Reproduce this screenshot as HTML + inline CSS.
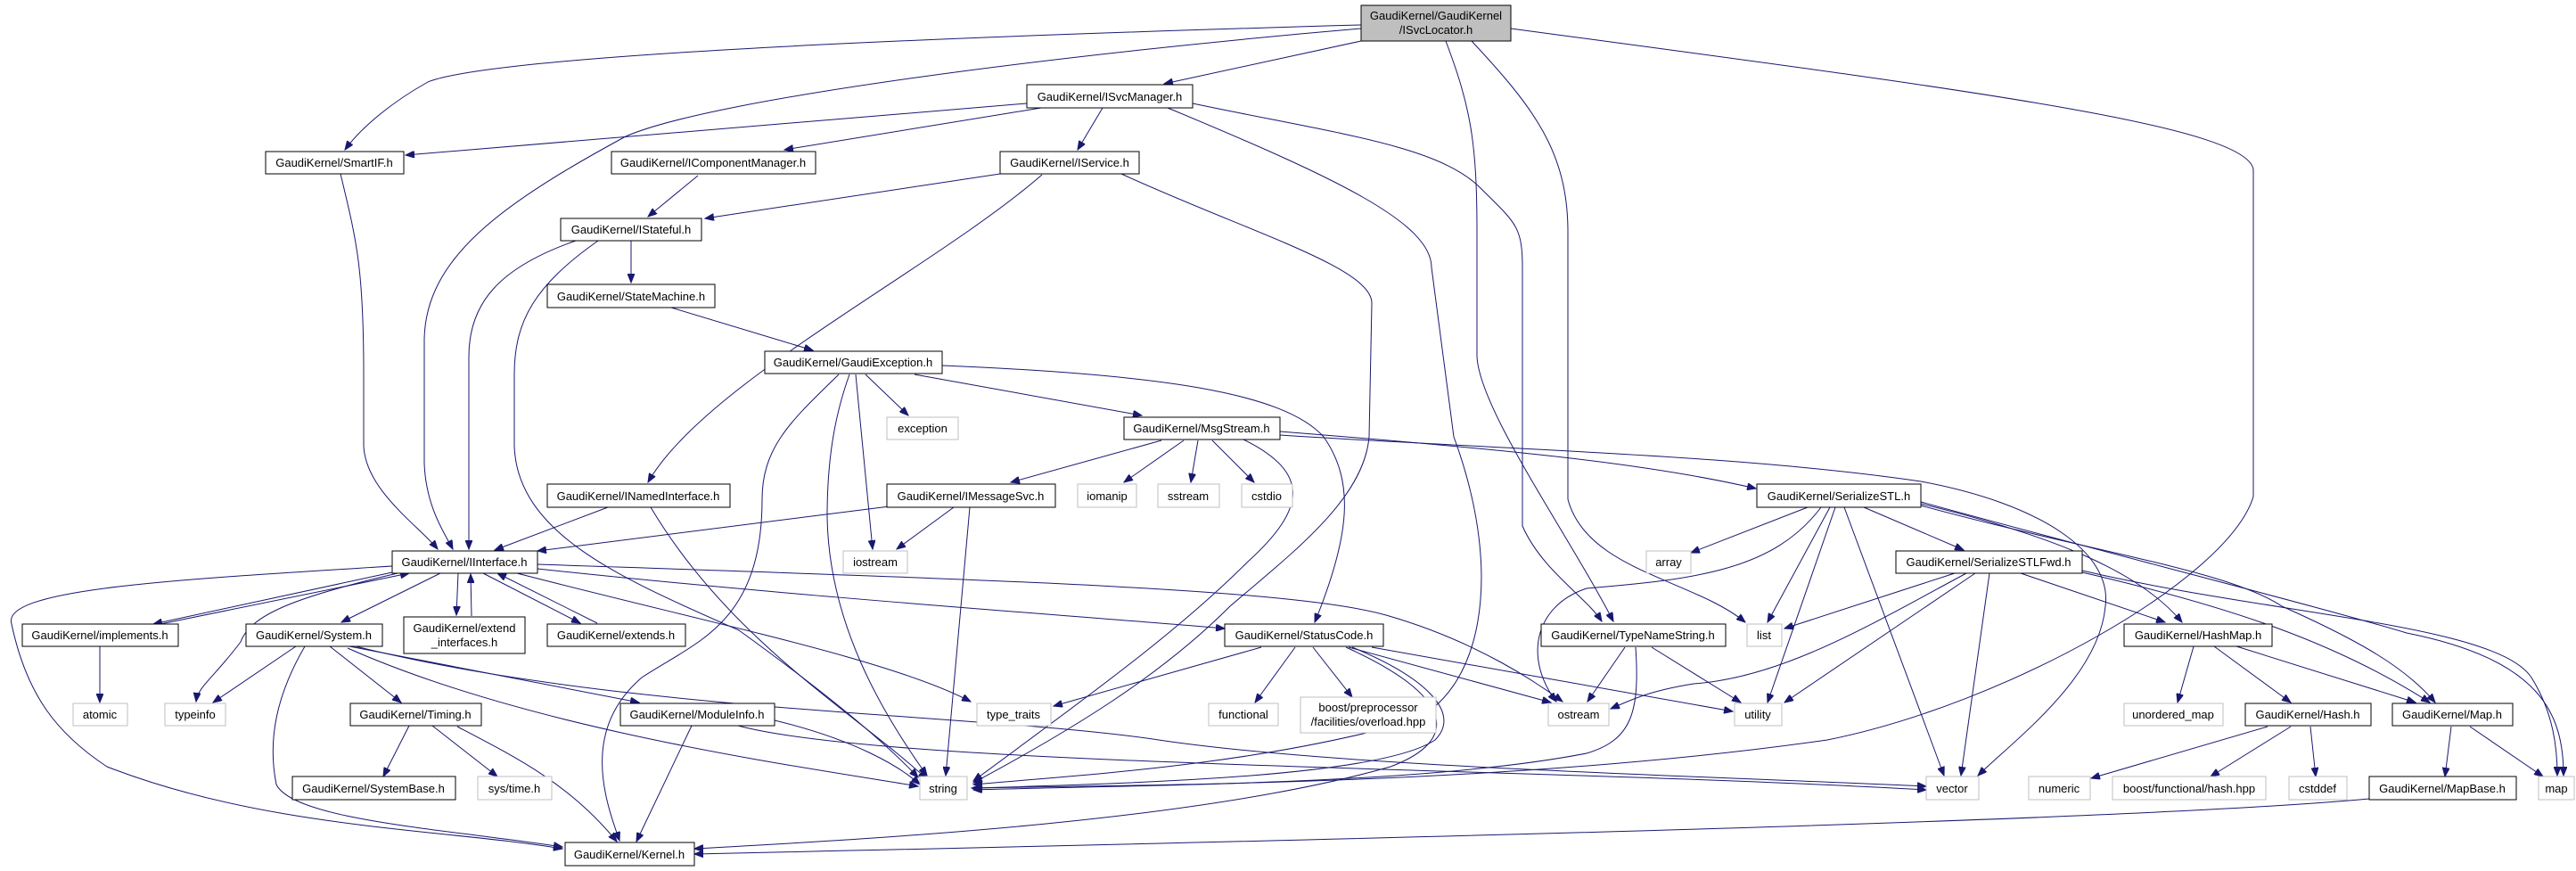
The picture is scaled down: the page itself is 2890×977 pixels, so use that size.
<!DOCTYPE html>
<html><head><meta charset="utf-8"><style>
html,body{margin:0;padding:0;background:#fff;}
svg{display:block;}
text{font-family:"Liberation Sans",Arial,sans-serif;font-size:13px;fill:#000;text-anchor:middle;}
.n{fill:#fff;stroke:#000;stroke-width:1;}
.x{fill:#fff;stroke:#bfbfbf;stroke-width:1;}
.e{fill:none;stroke:#191970;stroke-width:1;marker-end:url(#a);}
</style></head><body>
<svg width="2890" height="977" viewBox="0 0 2890 977" xmlns="http://www.w3.org/2000/svg">
<defs><marker id="a" markerUnits="userSpaceOnUse" markerWidth="11" markerHeight="8" refX="10" refY="4" orient="auto"><path d="M0,0 L10,4 L0,8 z" fill="#191970" stroke="#191970"/></marker></defs>
<g>
<!-- ISvcLocator edges -->
<path class="e" d="M1527,28 C1100,40 560,60 480,92 C430,120 400,150 387,168"/>
<path class="e" d="M1527,32 C1200,60 800,110 702,153 C560,230 478,290 476,380 L476,520 C478,570 500,600 508,616"/>
<path class="e" d="M1527,46 L1306,94"/>
<path class="e" d="M1622,46 C1650,120 1657,160 1657,260 L1657,400 C1660,460 1760,600 1810,697"/>
<path class="e" d="M1651,46 C1720,120 1759,170 1759,260 L1759,560 C1780,640 1900,650 1958,698"/>
<path class="e" d="M1695,32 C2200,100 2520,140 2528,190 L2528,557 C2500,650 2250,790 2050,830 C1700,880 1300,880 1090,884"/>
<!-- ISvcManager -->
<path class="e" d="M1152,116 L455,174"/>
<path class="e" d="M1168,121 L880,168"/>
<path class="e" d="M1237,121 L1209,168"/>
<path class="e" d="M1310,121 C1500,200 1606,250 1606,300 L1631,490 C1690,650 1660,780 1580,810 C1400,860 1200,870 1092,880"/>
<path class="e" d="M1338,116 C1500,150 1612,163 1660,210 C1700,250 1708,253 1708,300 L1708,590 C1730,640 1780,670 1797,697"/>
<!-- IComponentManager, IStateful, StateMachine -->
<path class="e" d="M783,197 L727,243"/>
<path class="e" d="M708,270 L708,317"/>
<path class="e" d="M753,345 L912,393"/>
<path class="e" d="M646,270 C560,300 526,340 526,400 L526,616"/>
<path class="e" d="M671,270 C600,320 577,360 577,420 L577,500 C580,600 700,650 829,707 C930,780 990,830 1030,872"/>
<!-- SmartIF -->
<path class="e" d="M382,195 C400,270 408,300 408,420 L408,500 C410,550 470,590 491,616"/>
<!-- IService -->
<path class="e" d="M1122,195 L791,245"/>
<path class="e" d="M1169,196 C1050,300 790,430 727,541"/>
<path class="e" d="M1258,195 C1400,260 1539,300 1539,340 L1536,490 C1530,560 1450,620 1380,680 C1300,760 1200,820 1092,878"/>
<!-- GaudiException -->
<path class="e" d="M941,420 C890,470 855,500 855,560 C855,700 780,720 720,760 C650,820 680,900 695,943"/>
<path class="e" d="M953,420 C935,470 928,520 928,580 C930,700 990,800 1040,870"/>
<path class="e" d="M960,420 L979,616"/>
<path class="e" d="M971,420 L1019,466"/>
<path class="e" d="M1026,420 L1281,466"/>
<path class="e" d="M1057,410 C1300,420 1440,440 1485,490 C1520,540 1515,600 1475,698"/>
<!-- MsgStream -->
<path class="e" d="M1303,494 L1134,541"/>
<path class="e" d="M1328,494 L1261,541"/>
<path class="e" d="M1344,494 L1336,541"/>
<path class="e" d="M1360,494 L1407,541"/>
<path class="e" d="M1395,493 C1470,530 1466,570 1400,630 C1330,700 1250,760 1092,876"/>
<path class="e" d="M1436,484 C1700,505 1850,520 1970,548"/>
<path class="e" d="M1436,488 C1700,505 1950,510 2155,540 C2290,565 2370,620 2362,680 C2355,760 2260,830 2219,870"/>
<!-- IMessageSvc, INamedInterface -->
<path class="e" d="M998,568 L603,618"/>
<path class="e" d="M1070,569 L1006,616"/>
<path class="e" d="M1088,569 L1061,870"/>
<path class="e" d="M682,569 L555,617"/>
<path class="e" d="M730,569 C820,720 960,800 1040,874"/>
<!-- IInterface -->
<path class="e" d="M440,642 L172,700"/>
<path class="e" d="M180,700 L459,643"/>
<path class="e" d="M446,643 C330,670 281,690 270,720 C240,760 222,770 220,787"/>
<path class="e" d="M440,635 C200,650 0,660 13,700 C30,780 64,823 120,860 C300,930 500,930 631,952"/>
<path class="e" d="M494,643 L383,698"/>
<path class="e" d="M514,643 L512,690"/>
<path class="e" d="M529,691 L528,644"/>
<path class="e" d="M542,643 L651,699"/>
<path class="e" d="M670,699 L558,643"/>
<path class="e" d="M603,638 C900,670 1200,690 1374,705"/>
<path class="e" d="M603,633 C1100,650 1450,660 1555,690 C1660,720 1730,770 1753,787"/>
<path class="e" d="M580,643 C800,700 1000,740 1089,787"/>
<!-- implements, System -->
<path class="e" d="M112,725 L112,788"/>
<path class="e" d="M332,725 L239,788"/>
<path class="e" d="M342,725 C310,780 300,830 310,880 C330,920 500,930 631,950"/>
<path class="e" d="M370,725 L450,788"/>
<path class="e" d="M392,725 L717,788"/>
<path class="e" d="M390,727 C600,820 900,860 1030,882"/>
<path class="e" d="M399,725 C700,800 1100,800 1300,830 C1500,860 1900,870 2161,882"/>
<!-- Timing, ModuleInfo -->
<path class="e" d="M459,814 L430,871"/>
<path class="e" d="M485,814 L558,871"/>
<path class="e" d="M513,815 C580,850 640,880 692,944"/>
<path class="e" d="M776,814 L714,944"/>
<path class="e" d="M869,808 C960,830 1010,860 1032,880"/>
<path class="e" d="M828,814 C1000,860 1700,860 2161,886"/>
<!-- StatusCode -->
<path class="e" d="M1415,726 L1182,792"/>
<path class="e" d="M1453,726 L1408,788"/>
<path class="e" d="M1473,726 L1517,782"/>
<path class="e" d="M1513,726 L1740,788"/>
<path class="e" d="M1539,726 L1944,798"/>
<path class="e" d="M1517,726 C1600,760 1640,800 1610,830 C1550,870 1300,878 1092,884"/>
<path class="e" d="M1510,726 C1630,780 1640,830 1560,860 C1350,920 1000,940 779,952"/>
<!-- TypeNameString -->
<path class="e" d="M1823,726 L1781,787"/>
<path class="e" d="M1853,726 L1953,788"/>
<path class="e" d="M1835,726 C1840,800 1830,830 1780,845 C1600,880 1300,880 1092,886"/>
<!-- SerializeSTL -->
<path class="e" d="M2028,569 L1897,620"/>
<path class="e" d="M2043,569 C1990,640 1900,650 1780,660 C1720,680 1710,740 1746,787"/>
<path class="e" d="M2053,569 L1983,698"/>
<path class="e" d="M2059,569 L1983,788"/>
<path class="e" d="M2069,569 L2181,870"/>
<path class="e" d="M2091,569 L2203,617"/>
<path class="e" d="M2155,565 C2300,600 2400,640 2448,698"/>
<path class="e" d="M2155,567 C2350,620 2500,640 2560,680 C2650,720 2700,750 2732,788"/>
<path class="e" d="M2155,563 C2400,630 2600,680 2700,710 C2850,740 2876,800 2876,870"/>
<!-- SerializeSTLFwd -->
<path class="e" d="M2193,643 L2002,705"/>
<path class="e" d="M2206,643 C2100,700 2000,760 1900,767 C1850,775 1830,785 1807,795"/>
<path class="e" d="M2216,643 L2002,788"/>
<path class="e" d="M2232,643 L2200,870"/>
<path class="e" d="M2267,643 L2429,698"/>
<path class="e" d="M2336,642 C2500,680 2620,720 2726,788"/>
<path class="e" d="M2336,640 C2550,690 2800,700 2840,760 C2865,800 2869,840 2869,870"/>
<!-- HashMap, Hash, Map -->
<path class="e" d="M2461,725 L2443,788"/>
<path class="e" d="M2484,725 L2570,788"/>
<path class="e" d="M2509,725 L2710,788"/>
<path class="e" d="M2544,815 L2346,873"/>
<path class="e" d="M2570,815 L2480,871"/>
<path class="e" d="M2592,815 L2598,871"/>
<path class="e" d="M2750,815 L2743,871"/>
<path class="e" d="M2771,815 L2853,871"/>
<path class="e" d="M2658,896 C2400,920 1600,940 779,958"/>
</g>
<g>
<rect x="1527" y="6" width="168" height="40" fill="#bfbfbf" stroke="#000"/><text x="1611" y="22">GaudiKernel/GaudiKernel</text><text x="1611" y="38">/ISvcLocator.h</text>
<rect class="n" x="1152" y="95" width="186" height="26"/><text x="1245" y="113">GaudiKernel/ISvcManager.h</text>
<rect class="n" x="298" y="170" width="155" height="25"/><text x="375" y="187">GaudiKernel/SmartIF.h</text>
<rect class="n" x="686" y="170" width="229" height="25"/><text x="800" y="187">GaudiKernel/IComponentManager.h</text>
<rect class="n" x="1122" y="170" width="156" height="25"/><text x="1200" y="187">GaudiKernel/IService.h</text>
<rect class="n" x="629" y="245" width="158" height="25"/><text x="708" y="262">GaudiKernel/IStateful.h</text>
<rect class="n" x="614" y="319" width="188" height="26"/><text x="708" y="337">GaudiKernel/StateMachine.h</text>
<rect class="n" x="858" y="394" width="199" height="25"/><text x="957" y="411">GaudiKernel/GaudiException.h</text>
<rect class="x" x="995" y="468" width="80" height="25"/><text x="1035" y="485">exception</text>
<rect class="n" x="1261" y="468" width="175" height="25"/><text x="1348" y="485">GaudiKernel/MsgStream.h</text>
<rect class="n" x="614" y="543" width="205" height="26"/><text x="716" y="561">GaudiKernel/INamedInterface.h</text>
<rect class="n" x="995" y="543" width="189" height="26"/><text x="1089" y="561">GaudiKernel/IMessageSvc.h</text>
<rect class="x" x="1209" y="543" width="66" height="26"/><text x="1242" y="561">iomanip</text>
<rect class="x" x="1299" y="543" width="69" height="26"/><text x="1333" y="561">sstream</text>
<rect class="x" x="1393" y="543" width="57" height="26"/><text x="1421" y="561">cstdio</text>
<rect class="n" x="1971" y="543" width="184" height="26"/><text x="2063" y="561">GaudiKernel/SerializeSTL.h</text>
<rect class="n" x="440" y="618" width="163" height="25"/><text x="521" y="635">GaudiKernel/IInterface.h</text>
<rect class="x" x="946" y="618" width="72" height="25"/><text x="982" y="635">iostream</text>
<rect class="x" x="1847" y="618" width="50" height="25"/><text x="1872" y="635">array</text>
<rect class="n" x="2127" y="618" width="209" height="25"/><text x="2231" y="635">GaudiKernel/SerializeSTLFwd.h</text>
<rect class="n" x="25" y="700" width="175" height="25"/><text x="112" y="717">GaudiKernel/implements.h</text>
<rect class="n" x="276" y="700" width="153" height="25"/><text x="352" y="717">GaudiKernel/System.h</text>
<rect class="n" x="453" y="692" width="136" height="41"/><text x="521" y="709">GaudiKernel/extend</text><text x="521" y="725">_interfaces.h</text>
<rect class="n" x="614" y="700" width="155" height="25"/><text x="691" y="717">GaudiKernel/extends.h</text>
<rect class="n" x="1374" y="700" width="178" height="25"/><text x="1463" y="717">GaudiKernel/StatusCode.h</text>
<rect class="n" x="1729" y="700" width="207" height="25"/><text x="1832" y="717">GaudiKernel/TypeNameString.h</text>
<rect class="x" x="1960" y="700" width="39" height="25"/><text x="1979" y="717">list</text>
<rect class="n" x="2383" y="700" width="166" height="25"/><text x="2466" y="717">GaudiKernel/HashMap.h</text>
<rect class="x" x="82" y="789" width="61" height="25"/><text x="112" y="806">atomic</text>
<rect class="x" x="185" y="789" width="68" height="25"/><text x="219" y="806">typeinfo</text>
<rect class="n" x="393" y="789" width="147" height="25"/><text x="466" y="806">GaudiKernel/Timing.h</text>
<rect class="n" x="696" y="789" width="173" height="25"/><text x="782" y="806">GaudiKernel/ModuleInfo.h</text>
<rect class="x" x="1096" y="789" width="83" height="25"/><text x="1137" y="806">type_traits</text>
<rect class="x" x="1356" y="789" width="78" height="25"/><text x="1395" y="806">functional</text>
<rect class="x" x="1459" y="782" width="152" height="40"/><text x="1535" y="798">boost/preprocessor</text><text x="1535" y="814">/facilities/overload.hpp</text>
<rect class="x" x="1737" y="789" width="68" height="25"/><text x="1771" y="806">ostream</text>
<rect class="x" x="1946" y="789" width="53" height="25"/><text x="1972" y="806">utility</text>
<rect class="x" x="2383" y="789" width="111" height="25"/><text x="2438" y="806">unordered_map</text>
<rect class="n" x="2519" y="789" width="141" height="25"/><text x="2589" y="806">GaudiKernel/Hash.h</text>
<rect class="n" x="2684" y="789" width="135" height="25"/><text x="2751" y="806">GaudiKernel/Map.h</text>
<rect class="n" x="328" y="871" width="183" height="26"/><text x="419" y="889">GaudiKernel/SystemBase.h</text>
<rect class="x" x="536" y="871" width="83" height="26"/><text x="577" y="889">sys/time.h</text>
<rect class="x" x="1032" y="871" width="53" height="26"/><text x="1058" y="889">string</text>
<rect class="x" x="2161" y="871" width="59" height="26"/><text x="2190" y="889">vector</text>
<rect class="x" x="2276" y="871" width="69" height="26"/><text x="2310" y="889">numeric</text>
<rect class="x" x="2370" y="871" width="172" height="26"/><text x="2456" y="889">boost/functional/hash.hpp</text>
<rect class="x" x="2568" y="871" width="65" height="26"/><text x="2600" y="889">cstddef</text>
<rect class="n" x="2658" y="871" width="165" height="26"/><text x="2740" y="889">GaudiKernel/MapBase.h</text>
<rect class="x" x="2848" y="871" width="40" height="26"/><text x="2868" y="889">map</text>
<rect class="n" x="634" y="945" width="145" height="26"/><text x="706" y="963">GaudiKernel/Kernel.h</text>
</g>
</svg>
</body></html>
